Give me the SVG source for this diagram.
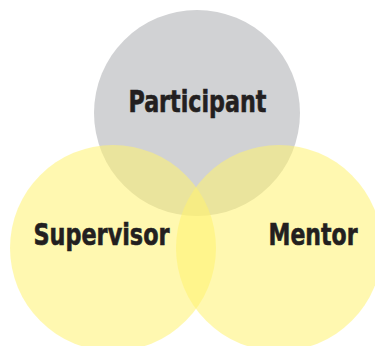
<svg xmlns="http://www.w3.org/2000/svg" width="375" height="346" viewBox="0 0 375 346">
<style>
.lbl{font-family:"Liberation Sans Narrow","DejaVu Sans Condensed","Liberation Sans",Arial,sans-serif;font-weight:bold;font-size:31px;fill:#231f20;stroke:#231f20;stroke-width:0.6;text-anchor:middle}
.yel{fill:#fff26f;fill-opacity:0.55}
</style>
<rect width="375" height="346" fill="#ffffff"/>
<g id="participant">
<circle cx="197" cy="113" r="103" fill="#d1d2d4"/>
</g>
<g id="supervisor">
<circle class="yel" cx="113" cy="248" r="103"/>
</g>
<g id="mentor">
<circle class="yel" cx="279" cy="248" r="103"/>
</g>
<g id="connectors"></g>
<g id="labels">
<text class="lbl" x="197.5" y="112" textLength="138" lengthAdjust="spacingAndGlyphs">Participant</text>
<text class="lbl" x="101.5" y="245" textLength="136" lengthAdjust="spacingAndGlyphs">Supervisor</text>
<text class="lbl" x="313" y="245" textLength="89" lengthAdjust="spacingAndGlyphs">Mentor</text>
</g>
</svg>
